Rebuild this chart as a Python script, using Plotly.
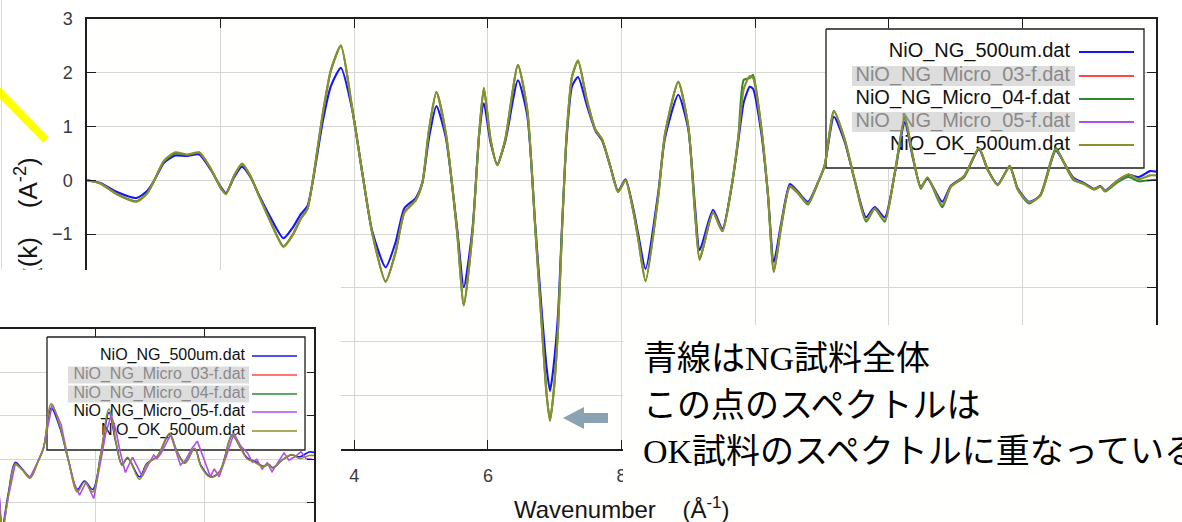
import plotly.graph_objects as go

W, H = 1182, 522

# ---------------- chi(k) spectra ----------------
k_main = [
    0.00, 0.20, 0.45, 0.74, 0.90, 1.00, 1.15, 1.32, 1.50, 1.68,
    1.85, 2.00, 2.08, 2.20, 2.32, 2.45, 2.58, 2.75, 2.94, 3.08,
    3.20, 3.30, 3.38, 3.53, 3.65, 3.80, 3.97, 4.12, 4.27, 4.47,
    4.62, 4.75, 4.92, 5.02, 5.12, 5.23, 5.37, 5.54, 5.64, 5.77,
    5.87, 5.94, 6.04, 6.14, 6.26, 6.45, 6.59, 6.71, 6.81, 6.88,
    6.93, 6.98, 7.05, 7.11, 7.18, 7.26, 7.35, 7.48, 7.61, 7.71,
    7.83, 7.95, 8.06, 8.18, 8.25, 8.36, 8.55, 8.65, 8.85, 9.00,
    9.10, 9.17, 9.37, 9.51, 9.65, 9.75, 9.83, 9.92, 9.97, 10.09,
    10.19, 10.28, 10.39, 10.52, 10.64, 10.79, 10.94, 11.04, 11.18, 11.34,
    11.49, 11.66, 11.79, 11.94, 12.09, 12.24, 12.36, 12.48, 12.58, 12.80,
    12.93, 13.13, 13.35, 13.48, 13.63, 13.81, 13.93, 14.10, 14.27, 14.50,
    14.65, 14.77, 14.92, 15.07, 15.17, 15.24, 15.42, 15.59, 15.74, 15.91, 16.00,
]

chi_ng_500um = [
    0.00, -0.05, -0.22, -0.33, -0.20, -0.02, 0.32, 0.46, 0.45, 0.48,
    0.20, -0.12, -0.24, 0.05, 0.25, 0.05, -0.29, -0.70, -1.08, -0.88,
    -0.63, -0.48, -0.02, 1.10, 1.75, 2.09, 1.31, 0.14, -0.95, -1.62,
    -1.15, -0.52, -0.33, -0.04, 0.80, 1.38, 0.80, -0.90, -1.99, -0.90,
    0.85, 1.43, 0.70, 0.30, 0.72, 1.86, 1.20, -0.85, -2.50, -3.50,
    -3.92, -3.50, -2.50, -0.85, 0.80, 1.75, 1.92, 1.40, 0.92, 0.74,
    0.27, -0.20, 0.02, -0.55, -1.00, -1.65, -0.23, 0.78, 1.59, 0.95,
    -0.48, -1.30, -0.55, -0.91, -0.10, 0.75, 1.45, 1.74, 1.70, 0.90,
    -0.23, -1.52, -0.80, -0.07, -0.21, -0.40, -0.04, 0.27, 1.18, 0.72,
    0.00, -0.69, -0.50, -0.69, 0.12, 1.08, 0.42, -0.12, 0.03, -0.40,
    -0.10, 0.08, 0.58, 0.20, -0.08, 0.25, -0.15, -0.40, -0.28, 0.55,
    0.27, 0.04, -0.05, -0.16, -0.11, -0.19, -0.01, 0.10, 0.06, 0.17, 0.16,
]

chi_micro_04 = [
    0.00, -0.06, -0.26, -0.39, -0.24, -0.02, 0.35, 0.50, 0.47, 0.51,
    0.22, -0.14, -0.25, 0.08, 0.30, 0.07, -0.31, -0.78, -1.23, -1.01,
    -0.71, -0.53, 0.00, 1.24, 2.04, 2.50, 1.33, 0.14, -0.99, -1.88,
    -1.33, -0.60, -0.37, -0.04, 0.95, 1.64, 0.88, -0.97, -2.32, -0.97,
    0.88, 1.71, 0.76, 0.28, 0.76, 2.14, 1.31, -0.91, -2.76, -4.00,
    -4.47, -4.00, -2.76, -0.91, 0.88, 1.93, 2.22, 1.50, 0.94, 0.76,
    0.27, -0.22, 0.00, -0.60, -1.09, -1.88, -0.30, 0.85, 1.83, 1.00,
    -0.60, -1.48, -0.60, -0.95, -0.10, 0.82, 1.87, 1.90, 1.96, 1.00,
    -0.25, -1.70, -0.87, -0.12, -0.24, -0.45, -0.05, 0.27, 1.29, 0.76,
    0.00, -0.77, -0.53, -0.77, 0.14, 1.17, 0.45, -0.16, 0.05, -0.50,
    -0.12, 0.06, 0.60, 0.20, -0.09, 0.27, -0.17, -0.43, -0.27, 0.60,
    0.25, 0.00, -0.06, -0.17, -0.12, -0.21, -0.04, 0.06, -0.02, 0.00, 0.01,
]

chi_ok_500um = [
    0.00, -0.06, -0.26, -0.40, -0.25, -0.02, 0.36, 0.52, 0.48, 0.52,
    0.22, -0.14, -0.26, 0.08, 0.31, 0.07, -0.31, -0.78, -1.24, -1.02,
    -0.72, -0.53, 0.00, 1.25, 2.05, 2.51, 1.33, 0.14, -0.99, -1.89,
    -1.34, -0.60, -0.37, -0.04, 0.95, 1.64, 0.88, -0.97, -2.33, -0.97,
    0.88, 1.72, 0.76, 0.28, 0.76, 2.15, 1.31, -0.91, -2.76, -4.00,
    -4.48, -4.00, -2.76, -0.91, 0.88, 1.93, 2.23, 1.50, 0.94, 0.76,
    0.27, -0.22, 0.00, -0.60, -1.09, -1.87, -0.30, 0.85, 1.83, 1.00,
    -0.60, -1.46, -0.60, -0.94, -0.10, 0.82, 1.70, 1.94, 1.90, 1.00,
    -0.23, -1.70, -0.85, -0.11, -0.23, -0.43, -0.04, 0.27, 1.28, 0.76,
    0.00, -0.75, -0.52, -0.75, 0.14, 1.16, 0.45, -0.14, 0.05, -0.46,
    -0.12, 0.08, 0.60, 0.20, -0.09, 0.25, -0.17, -0.41, -0.29, 0.57,
    0.27, 0.02, -0.07, -0.17, -0.12, -0.20, -0.01, 0.11, 0.02, 0.09, 0.09,
]

k_micro_05 = [
    10.09, 10.19, 10.28, 10.39, 10.52, 10.64, 10.79, 10.94, 11.04, 11.20,
    11.36, 11.49, 11.60, 11.70, 11.82, 11.96, 12.10, 12.18, 12.28, 12.36,
    12.45, 12.54, 12.67, 12.76, 12.85, 12.96, 13.06, 13.12, 13.19, 13.37,
    13.47, 13.55, 13.64, 13.76, 13.86, 13.98, 14.10, 14.17, 14.26, 14.41,
    14.53, 14.66, 14.78, 14.87, 14.95, 15.05, 15.14, 15.23, 15.34, 15.45,
    15.54, 15.65, 15.76, 15.85, 15.97,
]
chi_micro_05 = [
    1.00, -0.25, -1.72, -0.88, -0.10, -0.22, -0.42, -0.04, 0.27, 1.27,
    0.80, 0.02, -0.55, -0.82, -0.52, -0.90, 0.05, 0.60, 1.02, 0.70,
    0.14, -0.30, 0.05, -0.18, -0.39, -0.12, 0.10, 0.02, 0.13, 0.57,
    0.18, -0.13, -0.02, 0.25, 0.42, -0.01, -0.40, -0.22, -0.40, 0.14,
    0.60, 0.30, 0.15, -0.06, 0.00, -0.22, -0.08, -0.28, -0.05, 0.15,
    -0.02, 0.06, 0.18, 0.02, 0.00,
]

assert len(k_main) == len(chi_ng_500um) == len(chi_micro_04) == len(chi_ok_500um)
assert len(k_micro_05) == len(chi_micro_05)

series_names = [
    "NiO_NG_500um.dat",
    "NiO_NG_Micro_03-f.dat",
    "NiO_NG_Micro_04-f.dat",
    "NiO_NG_Micro_05-f.dat",
    "NiO_OK_500um.dat",
]
series_colors = ["#1414ff", "#ff4747", "#2c8a2c", "#b04ee8", "#8e8e2c"]
main_active = [True, False, True, False, True]
inset_active = [True, False, False, True, True]

# k ticks every 2; only 4, 6 and 8 are labelled (the rest sit under the overlays)
k_tick_vals = [0, 2, 4, 6, 8, 10, 12, 14, 16]
k_tick_text = ["", "", "4", "6", "8", "", "", "", ""]

x_title = "Wavenumber\u00a0\u00a0\u00a0\u00a0(Å<sup>-1</sup>)"
y_title = "χ(k)\u00a0\u00a0\u00a0\u00a0(A<sup>-2</sup>)"
note_lines = [
    "青線はNG試料全体",
    "この点のスペクトルは",
    "OK試料のスペクトルに重なっている",
]

# ---------------- panel geometry (pixels) ----------------
MAIN = dict(px0=87, px1=1156, py0=19, py1=449, kmin=0.0, kmax=16.0, cmin=-5.0, cmax=3.0)
INSET = dict(px0=0, px1=314, py0=329, py1=522, kmin=10.24, kmax=16.0, cmin=-1.44, cmax=3.0)


def dx(p, px):
    return p["kmin"] + (px - p["px0"]) / (p["px1"] - p["px0"]) * (p["kmax"] - p["kmin"])


def dy(p, py):
    return p["cmax"] - (py - p["py0"]) / (p["py1"] - p["py0"]) * (p["cmax"] - p["cmin"])


def dom_x(p):
    return [p["px0"] / W, p["px1"] / W]


def dom_y(p):
    return [1 - p["py1"] / H, 1 - p["py0"] / H]


def px(x):
    return x / W


def py(y):
    return 1 - y / H


GRID = "#d6d6d6"
FRAME = "#1e1e1e"
SANS = "Liberation Sans, Arial, sans-serif"

fig = go.Figure()


def add_legend(p, xa, ya, box, text_right, rows, sample, hl, hl_half, active, fsize, lw):
    x0, y0, x1, y1 = box
    fig.add_trace(go.Scatter(
        x=[dx(p, x0), dx(p, x1), dx(p, x1), dx(p, x0), dx(p, x0)],
        y=[dy(p, y0), dy(p, y0), dy(p, y1), dy(p, y1), dy(p, y0)],
        mode="lines", fill="toself", fillcolor="white",
        line=dict(color=FRAME, width=1.3),
        xaxis=xa, yaxis=ya, showlegend=False, hoverinfo="skip"))
    for i, r in enumerate(rows):
        if not active[i]:
            fig.add_trace(go.Scatter(
                x=[dx(p, hl[0]), dx(p, hl[1]), dx(p, hl[1]), dx(p, hl[0]), dx(p, hl[0])],
                y=[dy(p, r - hl_half), dy(p, r - hl_half), dy(p, r + hl_half),
                   dy(p, r + hl_half), dy(p, r - hl_half)],
                mode="lines", fill="toself", fillcolor="#dddddd",
                line=dict(width=0, color="#dddddd"),
                xaxis=xa, yaxis=ya, showlegend=False, hoverinfo="skip"))
    fig.add_trace(go.Scatter(
        x=[dx(p, text_right)] * len(rows), y=[dy(p, r) for r in rows],
        mode="text", text=series_names, textposition="middle left",
        textfont=dict(family=SANS, size=fsize,
                      color=["#111111" if a else "#8a8a8a" for a in active]),
        xaxis=xa, yaxis=ya, showlegend=False, hoverinfo="skip", cliponaxis=False))
    for i, r in enumerate(rows):
        fig.add_trace(go.Scatter(
            x=[dx(p, sample[0]), dx(p, sample[1])], y=[dy(p, r), dy(p, r)],
            mode="lines", line=dict(color=series_colors[i], width=lw),
            xaxis=xa, yaxis=ya, showlegend=False, hoverinfo="skip"))


# ---------------- main panel ----------------
add_legend(MAIN, "x", "y", (826, 29, 1144, 168), 1070, [52, 76, 99, 122, 145],
           (1079, 1134), (852, 1075), 10, main_active, 20, 2)

main_series = {0: chi_ng_500um, 2: chi_micro_04, 4: chi_ok_500um}
for i, vals in main_series.items():
    fig.add_trace(go.Scatter(
        x=k_main, y=vals, mode="lines", name=series_names[i],
        line=dict(color=series_colors[i], width=2.1, shape="spline", smoothing=0.6),
        xaxis="x", yaxis="y", showlegend=False))

# blank panels laid over parts of the main chart
fig.add_trace(go.Scatter(x=[], y=[], xaxis="x2", yaxis="y2", showlegend=False))
fig.add_trace(go.Scatter(x=[], y=[], xaxis="x3", yaxis="y3", showlegend=False))

# ---------------- inset panel ----------------
add_legend(INSET, "x4", "y4", (47, 337, 305, 450), 245, [356, 375, 394, 412, 431],
           (252, 297), (68, 249), 8.5, inset_active, 16, 1.6)

inset_series = [
    (0, k_main, chi_ng_500um, "spline"),
    (3, k_micro_05, chi_micro_05, "linear"),
    (4, k_main, chi_ok_500um, "spline"),
]
for i, ks, vals, shp in inset_series:
    fig.add_trace(go.Scatter(
        x=ks, y=vals, mode="lines", name=series_names[i],
        line=dict(color=series_colors[i], width=1.6, shape=shp),
        xaxis="x4", yaxis="y4", showlegend=False))

axis_common = dict(showgrid=True, gridcolor=GRID, gridwidth=1.4, zeroline=False,
                   showline=True, linecolor=FRAME, linewidth=1.5, automargin=False,
                   ticks="inside", tickcolor=FRAME, tickwidth=1.4)
hidden_axis = dict(visible=False, showgrid=False, zeroline=False, range=[0, 1], automargin=False)

fig.update_layout(
    width=W, height=H, margin=dict(l=0, r=0, t=0, b=0, pad=0, autoexpand=False),
    paper_bgcolor="white", plot_bgcolor="#fffffe",
    showlegend=False,
    xaxis=dict(domain=dom_x(MAIN), range=[MAIN["kmin"], MAIN["kmax"]],
               tickmode="array", tickvals=k_tick_vals, ticktext=k_tick_text,
               mirror="ticks", ticklen=9, anchor="y", ticklabelstandoff=10,
               tickfont=dict(family=SANS, size=18, color="#3a3a3a"), **axis_common),
    yaxis=dict(domain=dom_y(MAIN), range=[MAIN["cmin"], MAIN["cmax"]], dtick=1, tick0=0,
               mirror="ticks", ticklen=9, anchor="x", ticklabelstandoff=9,
               tickfont=dict(family=SANS, size=18, color="#3a3a3a"), **axis_common),
    xaxis2=dict(domain=[0, 341 / W], anchor="y2", **hidden_axis),
    yaxis2=dict(domain=[0, 1 - 270 / H], anchor="x2", **hidden_axis),
    xaxis3=dict(domain=[623 / W, 1], anchor="y3", **hidden_axis),
    yaxis3=dict(domain=[0, 1 - 325 / H], anchor="x3", **hidden_axis),
    xaxis4=dict(domain=dom_x(INSET), range=[INSET["kmin"], INSET["kmax"]], dtick=2, tick0=0,
                side="top", anchor="y4", ticklen=8, showticklabels=False, **axis_common),
    yaxis4=dict(domain=dom_y(INSET), range=[INSET["cmin"], INSET["cmax"]], dtick=1, tick0=0,
                side="right", anchor="x4", ticklen=7, showticklabels=False, **axis_common),
)

annotations = [
    dict(x=px(621), y=py(508), text=x_title, showarrow=False,
         font=dict(family=SANS, size=24, color="#151515"), xanchor="center", yanchor="middle"),
    dict(x=px(26), y=py(219), text=y_title, showarrow=False, textangle=-90,
         font=dict(family=SANS, size=26, color="#151515"), xanchor="center", yanchor="middle"),
    # white strip above the inset
    dict(x=px(42), y=py(298), text="\u00a0", showarrow=False, bgcolor="white",
         width=84, height=56, xanchor="center", yanchor="middle", borderpad=0),
]
for line, yc in zip(note_lines, [358, 405, 451]):
    annotations.append(dict(
        x=px(641), y=py(yc), text=line, showarrow=False, xanchor="left", yanchor="middle",
        font=dict(family="Liberation Serif, Noto Sans CJK JP, serif", size=34, color="#000000")))
for a in annotations:
    a["xref"] = "paper"
    a["yref"] = "paper"
fig.update_layout(annotations=annotations)

arrow = [(563, 418), (584, 407), (584, 413), (608, 413), (608, 423), (584, 423), (584, 429)]
path = "M " + " L ".join(f"{px(a):.5f},{py(b):.5f}" for a, b in arrow) + " Z"
fig.add_shape(type="path", path=path, xref="paper", yref="paper",
              fillcolor="#8aa2b2", line=dict(width=0), layer="above")
fig.add_shape(type="line", x0=px(-4), y0=py(89), x1=px(46), y1=py(140),
              xref="paper", yref="paper", line=dict(color="#ffff00", width=8), layer="above")
fig.add_shape(type="line", x0=px(1.5), y0=py(0), x1=px(1.5), y1=py(270),
              xref="paper", yref="paper", line=dict(color="#dcdcdc", width=1), layer="above")

fig.write_html("out.html")
